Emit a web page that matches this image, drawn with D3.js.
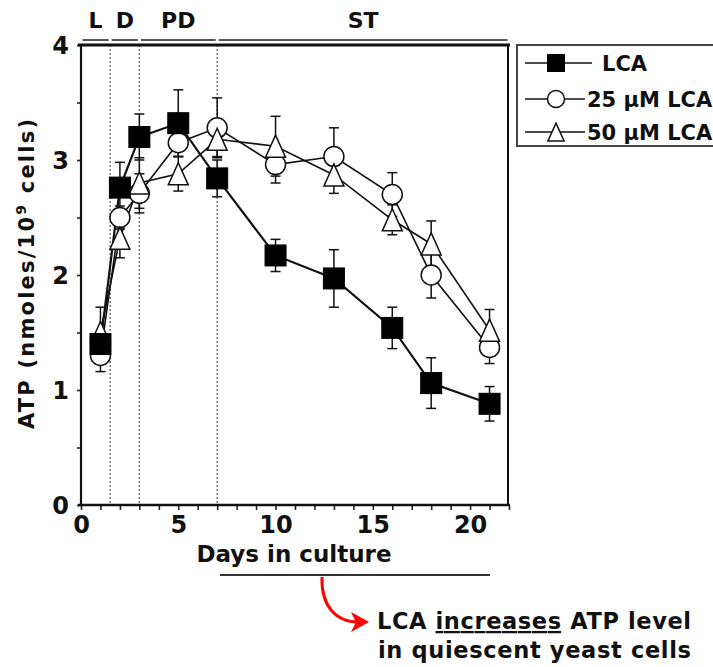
<!DOCTYPE html>
<html>
<head>
<meta charset="utf-8">
<script src="https://cdn.jsdelivr.net/npm/d3@7"></script>
<style>
  html, body { margin: 0; padding: 0; background: #fff; }
  svg { display: block; font-family: "DejaVu Sans", Verdana, sans-serif; font-weight: bold; }
</style>
</head>
<body>
<svg id="chart" width="713" height="667"></svg>
<script>
// ---- data ----
const days = [1, 2, 3, 5, 7, 10, 13, 16, 18, 21];
const lca = [1.40, 2.76, 3.20, 3.32, 2.84, 2.17, 1.97, 1.54, 1.06, 0.88];
const lcaErr = [0.05, 0.22, 0.20, 0.29, 0.16, 0.14, 0.25, 0.18, 0.22, 0.15];
const lca25 = [1.30, 2.50, 2.71, 3.15, 3.28, 2.96, 3.03, 2.70, 2.00, 1.37];
const lca25Err = [0.14, 0.10, 0.17, 0.12, 0.26, 0.16, 0.25, 0.19, 0.20, 0.14];
const lca50 = [1.50, 2.32, 2.80, 2.88, 3.18, 3.12, 2.87, 2.48, 2.27, 1.52];
const lca50Err = [0.22, 0.17, 0.22, 0.15, 0.15, 0.26, 0.16, 0.13, 0.20, 0.18];
const seriesNames = ["LCA", "25 \u00B5M LCA", "50 \u00B5M LCA"];
const phaseLabels = ["L", "D", "PD", "ST"];
const phaseBounds = [0, 1.5, 3, 7, 22];
const xTickLabels = [0, 5, 10, 15, 20];
const yTickLabels = [0, 1, 2, 3, 4];
const xTitle = "Days in culture";
const noteLine1 = ["LCA ", "increases", " ATP level"];
const noteLine2 = "in quiescent yeast cells";

// ---- scales ----
const svg = d3.select("#chart");
const x = d3.scaleLinear().domain([0, 22]).range([81, 509]);
const y = d3.scaleLinear().domain([0, 4]).range([505, 45]);

// phase segments above plot
const segs = d3.range(phaseLabels.length).map(i => ({ a: phaseBounds[i], b: phaseBounds[i + 1], label: phaseLabels[i] }));
svg.append("g").selectAll("line").data(segs).join("line")
  .attr("x1", d => x(d.a) + 1.5).attr("x2", d => x(d.b) - 1.5)
  .attr("y1", 40).attr("y2", 40)
  .attr("stroke", "#555").attr("stroke-width", 2);
svg.append("g").selectAll("text").data(segs).join("text")
  .attr("x", d => x((d.a + d.b) / 2)).attr("y", 28)
  .attr("text-anchor", "middle").attr("font-size", 22).attr("fill", "#111")
  .text(d => d.label);

// dotted phase boundary lines
svg.append("g").selectAll("line").data(phaseBounds.slice(1, 4)).join("line")
  .attr("x1", d => x(d)).attr("x2", d => x(d))
  .attr("y1", y(4)).attr("y2", y(0))
  .attr("stroke", "#666").attr("stroke-width", 1.3).attr("stroke-dasharray", "2,2");

// axes
const xAxis = d3.axisBottom(x).tickValues(d3.range(0, 23)).tickSize(5).tickSizeOuter(0)
  .tickFormat(d => xTickLabels.includes(d) ? d : "");
const gx = svg.append("g").attr("transform", `translate(0,${y(0)})`).call(xAxis);
gx.select(".domain").remove();
gx.selectAll(".tick line").attr("stroke", "#222").attr("stroke-width", 1.6);
gx.selectAll(".tick text").attr("y", 28).attr("dy", 0).attr("font-size", 24)
  .attr("font-family", "DejaVu Sans").attr("font-weight", "bold").attr("fill", "#111");

const yAxis = d3.axisLeft(y).tickValues(d3.range(0, 4.01, 0.5)).tickSize(4).tickSizeOuter(0).tickPadding(8)
  .tickFormat(d => yTickLabels.includes(d) ? d : "");
const gy = svg.append("g").attr("transform", `translate(${x(0)},0)`).call(yAxis);
gy.select(".domain").remove();
gy.selectAll(".tick line").attr("stroke", "#222").attr("stroke-width", 1.6);
gy.selectAll(".tick text").attr("font-size", 24).attr("dy", "0.36em")
  .attr("font-family", "DejaVu Sans").attr("font-weight", "bold").attr("fill", "#111");

// frame
svg.append("line").attr("x1", x(0) - 3).attr("x2", x(22) + 1).attr("y1", y(0)).attr("y2", y(0))
  .attr("stroke", "#111").attr("stroke-width", 2.5);
svg.append("line").attr("x1", x(0)).attr("x2", x(0)).attr("y1", y(4)).attr("y2", y(0))
  .attr("stroke", "#111").attr("stroke-width", 2.2);
svg.append("line").attr("x1", x(22) - 1).attr("x2", x(22) - 1).attr("y1", y(4)).attr("y2", y(0))
  .attr("stroke", "#111").attr("stroke-width", 2);
svg.append("line").attr("x1", x(0) - 3).attr("x2", x(22) + 1).attr("y1", y(4)).attr("y2", y(4))
  .attr("stroke", "#111").attr("stroke-width", 3);

// series
const series = [
  { name: seriesNames[0], vals: lca, err: lcaErr, shape: "square", lw: 2.2 },
  { name: seriesNames[1], vals: lca25, err: lca25Err, shape: "circle", lw: 1.6 },
  { name: seriesNames[2], vals: lca50, err: lca50Err, shape: "triangle", lw: 1.6 }
];
const line = d3.line().x(d => x(d.day)).y(d => y(d.v));
const pts = s => days.map((day, i) => ({ day, v: s.vals[i], e: s.err[i] }));

series.forEach(s => {
  svg.append("path").datum(pts(s)).attr("d", line)
    .attr("fill", "none").attr("stroke", "#111").attr("stroke-width", s.lw);
});
series.forEach(s => {
  const g = svg.append("g").attr("stroke", "#111").attr("stroke-width", 1.5);
  pts(s).forEach(p => {
    g.append("line").attr("x1", x(p.day)).attr("x2", x(p.day)).attr("y1", y(p.v - p.e)).attr("y2", y(p.v + p.e));
    [p.v - p.e, p.v + p.e].forEach(v => g.append("line")
      .attr("x1", x(p.day) - 5).attr("x2", x(p.day) + 5).attr("y1", y(v)).attr("y2", y(v)));
  });
});

function marker(g, shape, cx, cy, sz) {
  if (shape === "square") {
    g.append("rect").attr("x", cx - sz / 2).attr("y", cy - sz / 2).attr("width", sz).attr("height", sz)
      .attr("fill", "#000").attr("stroke", "#000").attr("stroke-width", 1);
  } else if (shape === "circle") {
    g.append("circle").attr("cx", cx).attr("cy", cy).attr("r", sz / 2)
      .attr("fill", "#fff").attr("stroke", "#111").attr("stroke-width", 1.5);
  } else {
    const h = sz * 1.05, w = sz * 0.95;
    g.append("path").attr("d", `M${cx},${cy - h / 2}L${cx + w / 2},${cy + h / 2}L${cx - w / 2},${cy + h / 2}Z`)
      .attr("fill", "#fff").attr("stroke", "#111").attr("stroke-width", 1.5);
  }
}
[series[1], series[2], series[0]].forEach(s => {
  const g = svg.append("g");
  pts(s).forEach(p => marker(g, s.shape, x(p.day), y(p.v), s.shape === "circle" ? 20 : 21));
});

// legend
const lg = svg.append("g");
lg.append("rect").attr("x", 517).attr("y", 45).attr("width", 220).attr("height", 101)
  .attr("fill", "#fff").attr("stroke", "#444").attr("stroke-width", 2);
const legY = [63, 99, 132];
series.forEach((s, i) => {
  const lineEnd = i === 0 ? 592 : 585;
  lg.append("line").attr("x1", 525).attr("x2", lineEnd).attr("y1", legY[i]).attr("y2", legY[i])
    .attr("stroke", "#111").attr("stroke-width", 1.6);
  marker(lg, s.shape, 556, legY[i], 17);
  lg.append("text").attr("x", i === 0 ? 602 : 587).attr("y", legY[i]).attr("dy", "0.36em")
    .attr("font-size", 21).attr("fill", "#111").text(s.name);
});

// axis titles
svg.append("text").attr("x", 294).attr("y", 562).attr("text-anchor", "middle")
  .attr("font-size", 23).attr("fill", "#111").text(xTitle);
const yt = svg.append("text").attr("transform", "translate(34,274) rotate(-90)")
  .attr("text-anchor", "middle").attr("font-size", 21).attr("fill", "#111")
  .attr("textLength", 310).attr("lengthAdjust", "spacing");
yt.append("tspan").text("ATP (nmoles/10");
yt.append("tspan").attr("dy", -8).attr("font-size", 14).text("9");
yt.append("tspan").attr("dy", 8).text(" cells)");

// underline bar & annotation
svg.append("line").attr("x1", 220).attr("x2", 490).attr("y1", 575).attr("y2", 575)
  .attr("stroke", "#333").attr("stroke-width", 2);
svg.append("path").attr("d", "M322,577 C321,606 336,622 358,622")
  .attr("fill", "none").attr("stroke", "#f00").attr("stroke-width", 3);
svg.append("path").attr("d", "M369,622 L351,612 L356,622 L351,632 Z").attr("fill", "#f00");

const n1 = svg.append("text").attr("x", 377).attr("y", 629).attr("font-size", 22.5).attr("fill", "#111")
  .attr("textLength", 314).attr("lengthAdjust", "spacing");
n1.append("tspan").text(noteLine1[0]);
n1.append("tspan").attr("text-decoration", "underline").style("text-decoration", "underline").text(noteLine1[1]);
n1.append("tspan").text(noteLine1[2]);
svg.append("text").attr("x", 378).attr("y", 658).attr("font-size", 22.5).attr("fill", "#111")
  .attr("textLength", 313).attr("lengthAdjust", "spacing").text(noteLine2);
</script>
</body>
</html>
